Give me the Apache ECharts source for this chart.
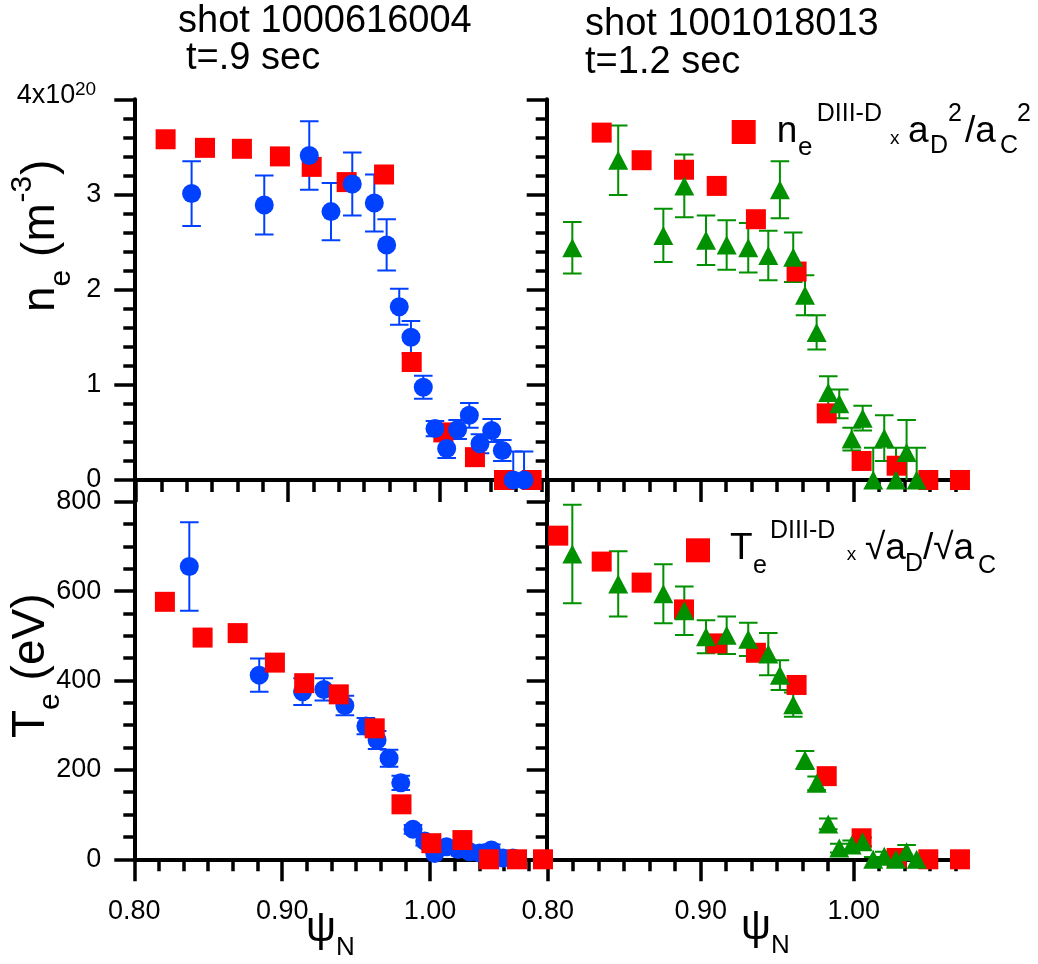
<!DOCTYPE html>
<html>
<head>
<meta charset="utf-8">
<script src="https://cdn.jsdelivr.net/npm/echarts@6/dist/echarts.min.js"></script>
<style>
html,body{margin:0;padding:0;background:#fff;}
#chart{width:1038px;height:964px;}
</style>
</head>
<body>
<div id="chart"></div>
<script>
// ---------------- data ----------------
// shot 1000616004, n_e (upper left)
const ulRedX  = [0.8195,0.8454,0.8697,0.8947,0.9156,0.9386,0.9632,0.9814,1.0022,1.0230,1.0421,1.0603];
const ulRedY  = [3.58,3.49,3.48,3.40,3.29,3.13,3.21,1.24,0.50,0.24,0,0];
const ulBlueX = [0.8366,0.8844,0.9140,0.9283,0.9423,0.9568,0.9649,0.9732,0.9809,0.9890,0.9967,1.0044,1.0116,1.0193,1.0263,1.0340,1.0410,1.0482,1.0553];
const ulBlueY = [3.01,2.89,3.41,2.82,3.11,2.91,2.47,1.82,1.50,0.975,0.54,0.33,0.53,0.68,0.38,0.52,0.31,0,0];
const ulBlueE = [0.34,0.31,0.36,0.30,0.33,0.30,0.27,0.19,0.17,0.12,0.08,0.10,0.10,0.13,0.10,0.12,0.11,0.30,0.30];
// shot 1000616004, T_e (lower left)
const llRedX  = [0.8207,0.8462,0.8699,0.8951,0.9149,0.9383,0.9626,0.9807,1.0009,1.0219,1.0399,1.0588,1.0764];
const llRedY  = [576,496,506,440,394,369,293,123,36,43,0,0,0];
const llBlueX = [0.8372,0.8845,0.9138,0.9282,0.9424,0.9566,0.9642,0.9723,0.9802,0.9885,0.9964,1.0032,1.0111,1.0189,1.0268,1.0336,1.0415,1.0493,1.0560];
const llBlueY = [655,412,375,380,344,298,267,226,171,67,41,13,28,22,17,14,21,3,3];
const llBlueE = [99,37,30,25,22,18,20,19,16,10,10,15,10,10,10,10,12,8,8];
// shot 1001018013 (right panels)
const urRedX  = [0.8353,0.8614,0.8891,0.9105,0.9361,0.9627,0.9824,1.0052,1.0281,1.0488,1.0695];
const urRedY  = [3.65,3.36,3.26,3.09,2.74,2.19,0.70,0.20,0.15,0,0];
const rGreenX = [0.8161,0.8461,0.8756,0.8893,0.9035,0.9170,0.9311,0.9442,0.9518,0.9605,0.9682,0.9758,0.9834,0.9906,0.9987,1.0059,1.0128,1.0200,1.0277,1.0346,1.0412];
const urGreenY = [2.44,3.36,2.57,3.09,2.52,2.47,2.44,2.36,3.05,2.34,1.94,1.55,0.92,0.80,0.43,0.65,0,0.44,0,0.29,0];
const urGreenE = [0.27,0.365,0.28,0.33,0.26,0.26,0.26,0.26,0.30,0.26,0.21,0.18,0.17,0.15,0.12,0.13,0.34,0.24,0.34,0.34,0.34];
const lrRedX  = [0.8069,0.8353,0.8614,0.8891,0.9105,0.9361,0.9627,0.9824,1.0052,1.0281,1.0488,1.0695];
const lrRedY  = [724,666,619,559,483,462,390,186,47,3,0,0];
const lrGreenY = [683,616,594,556,498,501,492,459,412,346,222,170,79,25,32,39,0,7,0,17,0];
const lrGreenE = [110,73,66,54,37,42,37,47,33,27,20,15,12,10,10,10,5,10,5,15,5];
// axis ticks
const xMajorTicks = [0.80, 0.90, 1.00];
const neMajorTicks = [0, 1, 2, 3, 4];
const neLabelTicks = [0, 1, 2, 3];
const teMajorTicks = [0, 200, 400, 600, 800];

// ---------------- helpers ----------------
const FONT = "'Liberation Sans', Arial, sans-serif";
const RED = '#ff0000', BLUE = '#0041ff', GREEN = '#009000';
const zip = (xs, ys, es) => xs.map((x, i) => es ? [x, ys[i], es[i]] : [x, ys[i]]);

function minorTicks(min, max, step, sub) {
  const out = [];
  for (let k = 1; ; k++) {
    const v = 0.8 + k * step / sub;
    if (v > max) break;
    if (k % sub !== 0) out.push(+v.toFixed(6));
  }
  return out;
}
function yMinor(max, step, sub) {
  const out = [];
  for (let v = step / sub, k = 1; v < max - 1e-9; k++, v = k * step / sub) {
    if (k % sub !== 0) out.push(+v.toFixed(6));
  }
  return out;
}

const AX = {color: '#000', width: 4};
const TK = {color: '#000', width: 3.5};

const grids = [
  {left: 134.3, top: 99.3, width: 412.4, height: 380.7},   // upper left
  {left: 134.3, top: 480,  width: 412.4, height: 379.3},   // lower left
  {left: 546.7, top: 99.3, width: 414.8, height: 380.7},   // upper right
  {left: 546.7, top: 480,  width: 414.8, height: 379.3}    // lower right
];
const xr = [[0.7989, 1.0702], [0.80, 1.0789], [0.79935, 1.0705], [0.79935, 1.0705]];
const yr = [[0, 4], [0, 848.5], [0, 4], [0, 848.5]];

const xAxis = [], yAxis = [];
grids.forEach((g, i) => {
  const [mn, mx] = xr[i];
  const lower = (i === 1 || i === 3);
  const left = (i === 0 || i === 1);
  xAxis.push({
    type: 'value', gridIndex: i, min: mn, max: mx, position: 'bottom',
    axisLine: {show: true, onZero: false, lineStyle: AX},
    axisTick: {show: true, customValues: xMajorTicks, length: 22, lineStyle: TK},
    axisLabel: {show: lower, customValues: xMajorTicks, formatter: v => v.toFixed(2),
                margin: 39, fontSize: 27, color: '#000', fontFamily: FONT},
    splitLine: {show: false}
  });
  xAxis.push({
    type: 'value', gridIndex: i, min: mn, max: mx, position: 'bottom',
    axisLine: {show: false},
    axisTick: {show: true, customValues: minorTicks(mn, mx, 0.1, 6), length: 12, lineStyle: TK},
    axisLabel: {show: false}, splitLine: {show: false}
  });
  const [ymn, ymx] = yr[i];
  const maj = lower ? teMajorTicks : neMajorTicks;
  const lab = lower ? teMajorTicks : neLabelTicks;
  const mnr = lower ? yMinor(800, 200, 4) : yMinor(4, 1, 5);
  yAxis.push({
    type: 'value', gridIndex: i, min: ymn, max: ymx, position: 'left',
    axisLine: {show: true, onZero: false, lineStyle: AX},
    axisTick: {show: true, customValues: maj, length: 20, lineStyle: TK},
    axisLabel: {show: left, customValues: lab, margin: 33, fontSize: 27, color: '#000', fontFamily: FONT},
    splitLine: {show: false}
  });
  yAxis.push({
    type: 'value', gridIndex: i, min: ymn, max: ymx, position: 'left',
    axisLine: {show: false},
    axisTick: {show: true, customValues: mnr, length: 11, lineStyle: TK},
    axisLabel: {show: false}, splitLine: {show: false}
  });
});

function errSeries(g, data, color) {
  return {
    type: 'custom', xAxisIndex: 2 * g, yAxisIndex: 2 * g, clip: true, silent: true,
    data: data,
    renderItem(params, api) {
      const x = api.value(0), y = api.value(1), e = api.value(2);
      const t = api.coord([x, y + e]), b = api.coord([x, y - e]);
      const hw = 9.3, st = {stroke: color, lineWidth: 2};
      return {type: 'group', children: [
        {type: 'line', shape: {x1: t[0], y1: t[1], x2: b[0], y2: b[1]}, style: st},
        {type: 'line', shape: {x1: t[0] - hw, y1: t[1], x2: t[0] + hw, y2: t[1]}, style: st},
        {type: 'line', shape: {x1: b[0] - hw, y1: b[1], x2: b[0] + hw, y2: b[1]}, style: st}
      ]};
    }
  };
}
function scat(g, name, data, color, symbol, size) {
  return {
    type: 'scatter', name: name, xAxisIndex: 2 * g, yAxisIndex: 2 * g, clip: false,
    data: data, symbol: symbol, symbolSize: size,
    itemStyle: {color: color, opacity: 1}, emphasis: {disabled: true}
  };
}

const series = [
  // upper left: blue on top
  scat(0, 'ulRed', zip(ulRedX, ulRedY), RED, 'rect', 20),
  errSeries(0, zip(ulBlueX, ulBlueY, ulBlueE), BLUE),
  scat(0, 'ulBlue', zip(ulBlueX, ulBlueY), BLUE, 'circle', 19),
  // lower left: red on top
  errSeries(1, zip(llBlueX, llBlueY, llBlueE), BLUE),
  scat(1, 'llBlue', zip(llBlueX, llBlueY), BLUE, 'circle', 19),
  scat(1, 'llRed', zip(llRedX, llRedY), RED, 'rect', 20),
  // upper right
  scat(2, 'neD', zip(urRedX, urRedY), RED, 'rect', 20),
  errSeries(2, zip(rGreenX, urGreenY, urGreenE), GREEN),
  scat(2, 'urGreen', zip(rGreenX, urGreenY), GREEN, 'triangle', [20, 19]),
  // lower right
  scat(3, 'TeD', zip(lrRedX, lrRedY), RED, 'rect', 20),
  errSeries(3, zip(rGreenX, lrGreenY, lrGreenE), GREEN),
  scat(3, 'lrGreen', zip(rGreenX, lrGreenY), GREEN, 'triangle', [20, 19])
];

// text helper: left x, baseline y
function T(text, x, base, fs, extra) {
  return Object.assign({
    type: 'text', x: x, y: base - 0.35 * fs, silent: true,
    style: {text: text, fontSize: fs, fontFamily: FONT, fill: '#000', align: 'left', verticalAlign: 'middle'}
  }, extra || {});
}

const graphic = [
  T('shot 1000616004', 178, 35, 38),
  T('t=.9 sec', 186, 72, 38),
  T('shot 1001018013', 585, 38, 38),
  T('t=1.2 sec', 585, 76, 38),
  T('4x10', 16.7, 105, 27),
  T('20', 75, 96, 19),
  // legend texts upper
  T('n', 776.7, 145, 37),
  T('e', 798, 157, 26),
  T('DIII-D', 816.7, 123.3, 25),
  T('x', 890, 145, 19),
  T('a', 908, 145, 37),
  T('D', 930, 155, 25),
  T('2', 948, 123.3, 25),
  T('/a', 965, 145, 37),
  T('C', 1000, 155, 25),
  T('2', 1017, 123.3, 25),
  // legend texts lower
  T('T', 730, 561.7, 37),
  T('e', 753, 575, 25),
  T('DIII-D', 770, 540, 25),
  T('x', 846.7, 561.7, 19),
  T('\u221Aa', 865, 561.7, 37),
  T('D', 905, 573.3, 25),
  T('/\u221Aa', 923, 561.7, 37),
  T('C', 978, 575, 25),
  // x axis titles
  T('\u03C8', 306, 944, 42), T('N', 336, 957, 26),
  T('\u03C8', 741, 942, 42), T('N', 771, 955, 26),
  // y axis titles (rotated)
  {type: 'group', x: 0, y: 312, rotation: Math.PI / 2, silent: true, children: [
    T('n', 0, 57, 46), T('e', 25.6, 72, 30), T(' (m', 42.3, 57, 46), T('-3', 109.5, 33, 30), T(')', 137, 57, 46)
  ]},
  {type: 'group', x: 0, y: 738, rotation: Math.PI / 2, silent: true, children: [
    T('T', 0, 47, 46), T('e', 28.1, 61, 30), T(' (eV)', 44.8, 47, 46)
  ]}
];

const chart = echarts.init(document.getElementById('chart'), null, {renderer: 'canvas'});
chart.setOption({
  animation: false,
  backgroundColor: '#fff',
  grid: grids,
  xAxis: xAxis,
  yAxis: yAxis,
  legend: [
    {data: [{name: 'neD', icon: 'rect'}], left: 731.7, top: 120, padding: 0, itemWidth: 24, itemHeight: 24,
     formatter: () => '', selectedMode: false, textStyle: {fontSize: 1}},
    {data: [{name: 'TeD', icon: 'rect'}], left: 686, top: 538.3, padding: 0, itemWidth: 24, itemHeight: 24,
     formatter: () => '', selectedMode: false, textStyle: {fontSize: 1}}
  ],
  series: series,
  graphic: graphic
});
</script>
</body>
</html>
